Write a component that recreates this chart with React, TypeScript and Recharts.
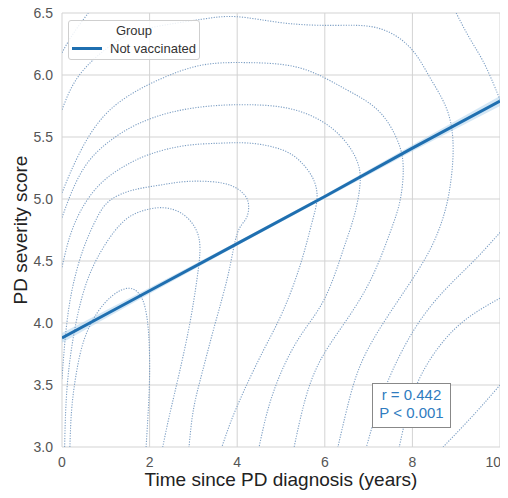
import React from 'react';
import { ComposedChart, Line, Area, XAxis, YAxis, CartesianGrid, Legend } from 'recharts';

const xTicks = [0, 2, 4, 6, 8, 10];
const yTicks = [3.0, 3.5, 4.0, 4.5, 5.0, 5.5, 6.0, 6.5];

const legendTitle = 'Group';
const legendLabel = 'Not vaccinated';
const statLines = ['r = 0.442', 'P < 0.001'];
const xLabel = 'Time since PD diagnosis (years)';
const yLabel = 'PD severity score';

// regression fit with its confidence band
const regX = [0, 2, 4, 6, 8, 10];
const regY = [3.88, 4.26, 4.64, 5.02, 5.41, 5.79];
const regLo = [3.84, 4.235, 4.625, 5.005, 5.385, 5.75];
const regHi = [3.92, 4.285, 4.655, 5.035, 5.435, 5.83];

// density contour lines, [x, y] pairs
const loop = [[0.18, 3.0], [0.22, 3.3], [0.32, 3.58], [0.5, 3.86], [0.8, 4.08], [1.15, 4.22], [1.5, 4.28], [1.75, 4.24], [1.9, 4.12], [1.98, 3.9], [2.0, 3.6], [1.97, 3.3], [1.92, 3.0]];
const arc6 = [[0.06, 3.0], [0.1, 3.4], [0.22, 3.8], [0.45, 4.2], [0.8, 4.52], [1.32, 4.79], [1.8, 4.9], [2.3, 4.93], [2.75, 4.88], [3.05, 4.76], [3.15, 4.6], [3.08, 4.35], [2.92, 4.0], [2.68, 3.6], [2.45, 3.25], [2.3, 3.0]];
const arc5 = [[0, 3.55], [0.08, 3.9], [0.22, 4.25], [0.48, 4.59], [0.8, 4.85], [1.1, 4.99], [1.6, 5.07], [2.2, 5.11], [2.8, 5.14], [3.4, 5.14], [3.85, 5.11], [4.15, 5.04], [4.26, 4.95], [4.2, 4.84], [4.0, 4.72], [3.8, 4.4], [3.5, 4.0], [3.2, 3.6], [3.0, 3.3], [2.9, 3.0]];
const arc4 = [[0, 4.45], [0.2, 4.72], [0.5, 4.95], [0.9, 5.13], [1.4, 5.26], [2.0, 5.36], [2.8, 5.43], [3.6, 5.45], [4.3, 5.45], [5.0, 5.4], [5.45, 5.3], [5.75, 5.15], [5.82, 4.99], [5.7, 4.8], [5.45, 4.48], [5.05, 4.1], [4.6, 3.78], [4.15, 3.45], [3.85, 3.2], [3.65, 3.0]];
const arc3 = [[0, 4.85], [0.25, 5.08], [0.6, 5.3], [1.1, 5.47], [1.7, 5.6], [2.5, 5.7], [3.4, 5.75], [4.3, 5.76], [5.3, 5.72], [6.2, 5.56], [6.72, 5.32], [6.8, 5.1], [6.66, 4.85], [6.42, 4.59], [6.0, 4.2], [5.45, 3.9], [5.0, 3.6], [4.7, 3.3], [4.5, 3.0]];
const arc2 = [[0, 5.05], [0.4, 5.37], [1.1, 5.72], [2.2, 5.96], [3.2, 6.08], [4.2, 6.1], [5.4, 6.06], [6.4, 5.9], [7.2, 5.72], [7.65, 5.48], [7.79, 5.26], [7.72, 4.99], [7.49, 4.73], [7.05, 4.35], [6.45, 4.0], [5.9, 3.7], [5.55, 3.38], [5.3, 3.0]];
const arc1 = [[0, 5.72], [0.3, 5.95], [0.8, 6.15], [1.5, 6.32], [2.3, 6.4], [3.2, 6.45], [4.0, 6.47], [5.05, 6.42], [6.2, 6.4], [7.2, 6.38], [7.95, 6.22], [8.4, 5.98], [8.79, 5.72], [8.93, 5.42], [8.86, 5.1], [8.7, 4.85], [8.4, 4.59], [7.9, 4.3], [7.3, 3.98], [6.8, 3.65], [6.5, 3.3], [6.3, 3.0]];
const cornerTL = [[0, 6.18], [0.25, 6.33], [0.6, 6.5]];
const cornerTR = [[9.0, 6.5], [9.3, 6.3], [9.6, 6.12], [9.85, 5.93], [10, 5.8]];
const edgeA = [[10, 4.73], [9.4, 4.5], [8.75, 4.27], [8.1, 3.98], [7.55, 3.62], [7.2, 3.3], [6.95, 3.0]];
const edgeB = [[10, 4.2], [9.3, 4.05], [8.7, 3.85], [8.2, 3.58], [7.9, 3.3], [7.7, 3.0]];
const edgeC = [[10, 3.5], [9.4, 3.26], [8.7, 3.0]];

const contours = [loop, arc6, arc5, arc4, arc3, arc2, arc1, cornerTL, cornerTR, edgeA, edgeB, edgeC];

const toPts = (arr: number[][]) => arr.map(([x, y]) => ({ x, y }));
const regData = regX.map((x, i) => ({ x, y: regY[i] }));
const bandData = regX.map((x, i) => ({ x, range: [regLo[i], regHi[i]] }));

const FONT = "'Liberation Sans', Arial, Helvetica, sans-serif";
const BLUE = '#1f6fb0';

const LegendBox = () => (
  <div
    style={{
      width: 130,
      height: 38,
      border: '1px solid #cfcfcf',
      borderRadius: 3,
      background: 'rgba(255,255,255,0.85)',
      fontSize: 13,
      lineHeight: '15px',
      color: '#333',
      fontFamily: FONT,
    }}
  >
    <div style={{ textAlign: 'center', marginTop: 2 }}>{legendTitle}</div>
    <div style={{ display: 'flex', alignItems: 'center', marginTop: 3 }}>
      <span style={{ display: 'inline-block', width: 30, height: 3, background: BLUE, marginLeft: 3, marginRight: 8 }} />
      <span>{legendLabel}</span>
    </div>
  </div>
);

const XTick = (props: any) => {
  const { x, y, payload } = props;
  const last = payload.value === xTicks[xTicks.length - 1];
  return (
    <text x={x} y={y} dy="0.71em" dx={last ? 1 : 0} textAnchor={last ? 'end' : 'middle'} fill="#555" fontSize={14} fontFamily={FONT}>
      {payload.value}
    </text>
  );
};

const YLabel = (props: any) => {
  const vb = props.viewBox || { x: 0, y: 0, width: 0, height: 0 };
  const cx = vb.x + 19;
  const cy = vb.y + vb.height / 2;
  return (
    <text x={cx} y={cy} transform={`rotate(-90 ${cx} ${cy})`} textAnchor="middle" fontSize={19} fill="#222" fontFamily={FONT}>
      {yLabel}
    </text>
  );
};

export default function App() {
  return (
    <div style={{ position: 'relative', width: 500, height: 490, marginTop: -8, fontFamily: FONT, background: '#fff' }}>
      <ComposedChart width={500} height={490} margin={{ top: 13, right: 8, bottom: 0, left: 0 }}>
        <CartesianGrid stroke="#d3d3d3" strokeWidth={1} />
        <XAxis
          type="number"
          dataKey="x"
          domain={[0, 10]}
          ticks={xTicks}
          interval={0}
          allowDataOverflow
          tickLine={false}
          axisLine={false}
          tickSize={6}
          tickMargin={4}
          height={43}
          tick={<XTick />}
          label={{ value: xLabel, position: 'insideBottom', offset: 4, fill: '#222', fontSize: 19, fontFamily: FONT }}
        />
        <YAxis
          type="number"
          domain={[3, 6.5]}
          ticks={yTicks}
          interval={0}
          allowDataOverflow
          tickFormatter={(v: number) => v.toFixed(1)}
          tickLine={false}
          axisLine={false}
          tickSize={6}
          tickMargin={3}
          width={54}
          tick={{ fill: '#555', fontSize: 14, fontFamily: FONT }}
          label={<YLabel />}
        />
        {contours.map((c, i) => (
          <Line
            key={'c' + i}
            data={toPts(c)}
            dataKey="y"
            type="natural"
            stroke="#7d9fc4"
            strokeWidth={1.1}
            strokeDasharray="1.2 1.4"
            dot={false}
            activeDot={false}
            legendType="none"
            isAnimationActive={false}
          />
        ))}
        <Area
          data={bandData}
          dataKey="range"
          type="linear"
          stroke="none"
          fill="#a9d0ec"
          fillOpacity={0.5}
          legendType="none"
          isAnimationActive={false}
        />
        <Line
          data={regData}
          dataKey="y"
          type="linear"
          stroke={BLUE}
          strokeWidth={3}
          dot={false}
          activeDot={false}
          legendType="none"
          isAnimationActive={false}
        />
        <Legend
          layout="vertical"
          align="center"
          verticalAlign="middle"
          content={<LegendBox />}
          wrapperStyle={{ left: 60, top: 20, width: 132, height: 40 }}
        />
      </ComposedChart>
      <div
        style={{
          position: 'absolute',
          left: 364,
          top: 383,
          width: 77,
          height: 41,
          border: '1.5px solid #888',
          background: '#fff',
          color: '#2f7cbf',
          fontSize: 15,
          lineHeight: '18px',
          textAlign: 'center',
          paddingTop: 2,
          fontFamily: FONT,
          boxSizing: 'content-box',
        }}
      >
        {statLines.map((s) => (
          <div key={s}>{s}</div>
        ))}
      </div>
    </div>
  );
}
